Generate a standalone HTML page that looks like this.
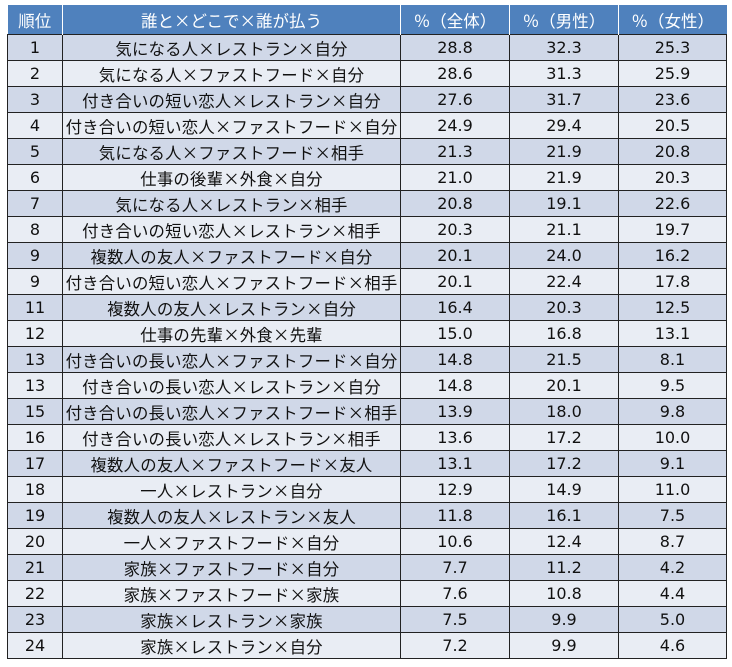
<!DOCTYPE html>
<html><head><meta charset="utf-8"><style>
html,body{margin:0;padding:0;background:#fff;width:732px;height:667px;overflow:hidden}
table{position:absolute;left:7px;top:5px;border-collapse:collapse;font-family:"DejaVu Sans","Noto Sans CJK JP",sans-serif;font-size:16px;color:#111;table-layout:fixed}
td,th{text-align:center;padding:0;white-space:nowrap;overflow:hidden}
th{background:#4f81bd;color:#fff;font-weight:normal;height:29px;border-left:1px solid #fff;font-family:"Noto Sans CJK JP",sans-serif;font-size:16.5px}
th:first-child{border-left:none}
td{border:1.5px solid #222;height:25px;line-height:20px}
td.n{font-family:"Noto Sans CJK JP",sans-serif;font-size:16.4px;letter-spacing:0.2px}
tr:nth-child(even) td{background:#d0d8e8}
tr:nth-child(odd) td{background:#e9edf4}
</style></head><body>
<table>
<colgroup><col style="width:55px"><col style="width:338px"><col style="width:109px"><col style="width:109px"><col style="width:108px"></colgroup>
<tr><th>順位</th><th>誰と×どこで×誰が払う</th><th>％（全体）</th><th>％（男性）</th><th>％（女性）</th></tr>
<tr><td>1</td><td class="n">気になる人×レストラン×自分</td><td>28.8</td><td>32.3</td><td>25.3</td></tr>
<tr><td>2</td><td class="n">気になる人×ファストフード×自分</td><td>28.6</td><td>31.3</td><td>25.9</td></tr>
<tr><td>3</td><td class="n">付き合いの短い恋人×レストラン×自分</td><td>27.6</td><td>31.7</td><td>23.6</td></tr>
<tr><td>4</td><td class="n">付き合いの短い恋人×ファストフード×自分</td><td>24.9</td><td>29.4</td><td>20.5</td></tr>
<tr><td>5</td><td class="n">気になる人×ファストフード×相手</td><td>21.3</td><td>21.9</td><td>20.8</td></tr>
<tr><td>6</td><td class="n">仕事の後輩×外食×自分</td><td>21.0</td><td>21.9</td><td>20.3</td></tr>
<tr><td>7</td><td class="n">気になる人×レストラン×相手</td><td>20.8</td><td>19.1</td><td>22.6</td></tr>
<tr><td>8</td><td class="n">付き合いの短い恋人×レストラン×相手</td><td>20.3</td><td>21.1</td><td>19.7</td></tr>
<tr><td>9</td><td class="n">複数人の友人×ファストフード×自分</td><td>20.1</td><td>24.0</td><td>16.2</td></tr>
<tr><td>9</td><td class="n">付き合いの短い恋人×ファストフード×相手</td><td>20.1</td><td>22.4</td><td>17.8</td></tr>
<tr><td>11</td><td class="n">複数人の友人×レストラン×自分</td><td>16.4</td><td>20.3</td><td>12.5</td></tr>
<tr><td>12</td><td class="n">仕事の先輩×外食×先輩</td><td>15.0</td><td>16.8</td><td>13.1</td></tr>
<tr><td>13</td><td class="n">付き合いの長い恋人×ファストフード×自分</td><td>14.8</td><td>21.5</td><td>8.1</td></tr>
<tr><td>13</td><td class="n">付き合いの長い恋人×レストラン×自分</td><td>14.8</td><td>20.1</td><td>9.5</td></tr>
<tr><td>15</td><td class="n">付き合いの長い恋人×ファストフード×相手</td><td>13.9</td><td>18.0</td><td>9.8</td></tr>
<tr><td>16</td><td class="n">付き合いの長い恋人×レストラン×相手</td><td>13.6</td><td>17.2</td><td>10.0</td></tr>
<tr><td>17</td><td class="n">複数人の友人×ファストフード×友人</td><td>13.1</td><td>17.2</td><td>9.1</td></tr>
<tr><td>18</td><td class="n">一人×レストラン×自分</td><td>12.9</td><td>14.9</td><td>11.0</td></tr>
<tr><td>19</td><td class="n">複数人の友人×レストラン×友人</td><td>11.8</td><td>16.1</td><td>7.5</td></tr>
<tr><td>20</td><td class="n">一人×ファストフード×自分</td><td>10.6</td><td>12.4</td><td>8.7</td></tr>
<tr><td>21</td><td class="n">家族×ファストフード×自分</td><td>7.7</td><td>11.2</td><td>4.2</td></tr>
<tr><td>22</td><td class="n">家族×ファストフード×家族</td><td>7.6</td><td>10.8</td><td>4.4</td></tr>
<tr><td>23</td><td class="n">家族×レストラン×家族</td><td>7.5</td><td>9.9</td><td>5.0</td></tr>
<tr><td>24</td><td class="n">家族×レストラン×自分</td><td>7.2</td><td>9.9</td><td>4.6</td></tr>
</table>
</body></html>
